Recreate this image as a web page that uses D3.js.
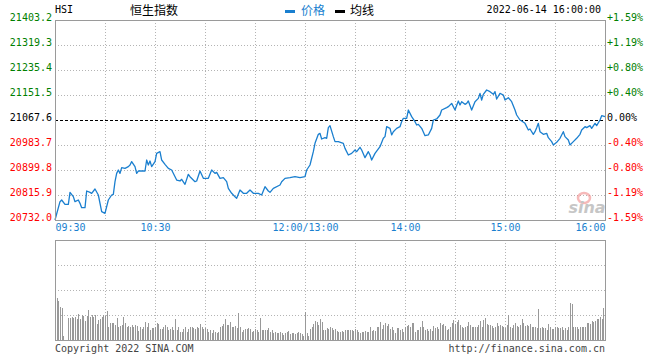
<!DOCTYPE html>
<html>
<head>
<meta charset="utf-8">
<script src="https://cdn.jsdelivr.net/npm/d3@7"></script>
<style>
  body { margin: 0; background: #fff; }
  text { font-family: "DejaVu Sans Mono", monospace; font-size: 10px; }
  .cjk { font-family: "Noto Sans CJK SC", sans-serif; font-size: 12px; }
</style>
</head>
<body>
<div id="graph"></div>
<script>
// HSI intraday, 2022-06-14
// trading minutes since 09:30 (lunch break 12:00-13:00 removed, 330 = 16:00)
const tradeMinute = [
  0, 3, 4, 6, 8, 9, 11, 12, 14, 15, 16, 18, 19, 21, 22, 24, 26, 28, 30, 32,
  34, 35, 36, 37, 38, 39, 40, 42, 44, 45, 46, 48, 49, 50, 54, 55, 56, 57, 58, 60,
  61, 63, 64, 66, 68, 70, 73, 75, 76, 78, 80, 81, 84, 85, 87, 89, 92, 94, 96, 97,
  99, 101, 103, 104, 106, 108, 109, 111, 113, 115, 117, 119, 122, 124, 126, 128, 129, 131, 135, 136,
  138, 141, 144, 147, 150, 151, 153, 155, 156, 158, 159, 160, 162, 163, 164, 165, 167, 168, 170, 173,
  174, 176, 178, 180, 181, 183, 184, 186, 188, 189, 190, 192, 195, 197, 198, 199, 201, 202, 203, 205,
  207, 208, 209, 211, 212, 214, 216, 217, 218, 220, 222, 224, 226, 227, 229, 231, 232, 235, 236, 238,
  240, 242, 243, 244, 246, 247, 248, 250, 252, 254, 255, 256, 257, 259, 261, 263, 264, 265, 267, 269,
  270, 272, 274, 276, 277, 279, 280, 282, 284, 285, 287, 288, 289, 290, 291, 293, 295, 296, 298, 299,
  301, 303, 305, 306, 308, 309, 311, 313, 315, 316, 318, 319, 321, 322, 324, 325, 327, 328, 330
];
const price = [
  20732.0, 20793.5, 20799.1, 20784.6, 20784.6, 20824.8, 20810.3, 20793.5, 20799.1, 20787.9,
  20773.4, 20773.4, 20829.3, 20824.8, 20821.5, 20836.0, 20815.9, 20760.0, 20754.4, 20799.1,
  20815.9, 20818.1, 20860.6, 20888.6, 20899.8, 20888.6, 20907.6, 20905.4, 20911.0, 20916.6,
  20927.8, 20911.0, 20888.6, 20896.4, 20896.4, 20933.3, 20916.6, 20930.0, 20911.0, 20927.8,
  20955.7, 20961.3, 20933.3, 20918.8, 20905.4, 20899.8, 20866.2, 20862.9, 20868.5, 20851.7,
  20885.3, 20877.4, 20860.6, 20862.9, 20896.4, 20871.8, 20871.8, 20899.8, 20888.6, 20892.0,
  20871.8, 20874.1, 20860.6, 20838.3, 20821.5, 20810.3, 20804.7, 20832.7, 20821.5, 20821.5,
  20832.7, 20821.5, 20821.5, 20815.9, 20843.9, 20829.3, 20824.8, 20838.3, 20849.5, 20860.6,
  20871.8, 20874.1, 20877.4, 20874.1, 20877.4, 20899.8, 20916.6, 20961.3, 20989.3, 21019.5,
  21022.8, 21003.8, 21008.3, 21006.1, 21041.9, 21048.6, 21011.7, 20994.9, 20994.9, 20989.3,
  20972.5, 20950.1, 20955.7, 20966.9, 20961.3, 20976.0, 20966.9, 20941.2, 20961.3, 20950.1,
  20933.3, 20955.7, 20978.1, 21006.1, 21011.7, 21045.2, 21039.6, 21017.4, 21028.4, 21039.6,
  21045.2, 21062.0, 21073.2, 21073.2, 21101.1, 21078.8, 21062.0, 21050.8, 21053.1, 21039.6,
  21015.0, 21017.3, 21039.6, 21067.6, 21071.0, 21084.4, 21101.1, 21109.0, 21112.3, 21123.5,
  21101.1, 21131.4, 21117.9, 21129.1, 21120.2, 21123.5, 21131.4, 21101.1, 21129.1, 21140.3,
  21157.1, 21134.7, 21153.7, 21168.3, 21162.7, 21153.7, 21162.7, 21138.1, 21157.1, 21151.5,
  21134.7, 21142.5, 21129.1, 21101.1, 21084.4, 21067.6, 21064.2, 21056.4, 21034.0, 21037.4,
  21019.5, 21028.4, 21041.9, 21056.4, 21028.4, 21019.5, 21022.8, 21008.3, 20994.9, 20983.7,
  20992.6, 21006.1, 21028.4, 21011.7, 21000.5, 20983.7, 20994.9, 21006.1, 21019.5, 21034.0,
  21045.2, 21041.9, 21048.6, 21039.6, 21056.4, 21048.6, 21067.6, 21082.1, 21078.8
];
// volume per minute, first entry = 09:31 (relative units)
const volume = [
  42, 39, 33, 32, 4, 0, 0, 22, 22, 23,
  22, 23, 21, 26, 21, 25, 24, 19, 24, 30,
  23, 25, 23, 25, 16, 20, 21, 23, 25, 24,
  29, 13, 17, 17, 17, 15, 22, 13, 14, 15,
  23, 17, 13, 14, 13, 15, 13, 15, 14, 9,
  13, 11, 13, 18, 13, 17, 10, 12, 12, 13,
  17, 16, 11, 11, 13, 15, 13, 10, 11, 13,
  10, 21, 10, 13, 8, 8, 11, 13, 8, 11,
  13, 13, 12, 11, 13, 12, 16, 13, 11, 12,
  11, 8, 10, 7, 10, 8, 7, 8, 13, 14,
  16, 21, 15, 15, 18, 13, 13, 14, 12, 27,
  13, 8, 10, 11, 11, 12, 11, 8, 9, 11,
  10, 8, 22, 10, 10, 10, 10, 12, 8, 10,
  7, 8, 7, 7, 8, 7, 5, 7, 8, 9,
  6, 7, 7, 6, 7, 8, 7, 6, 4, 28,
  7, 4, 11, 13, 16, 19, 18, 15, 21, 18,
  10, 10, 12, 11, 13, 12, 10, 11, 9,
  8, 8, 9, 8, 10, 10, 10, 10, 10, 9,
  11, 10, 8, 7, 8, 8, 9, 8, 8, 13,
  9, 10, 9, 13, 13, 18, 11, 15, 17, 14,
  16, 11, 13, 10, 7, 12, 12, 10, 11, 8,
  13, 14, 15, 13, 17, 17, 8, 10, 10, 13,
  19, 13, 10, 11, 9, 11, 9, 14, 12, 13,
  11, 17, 15, 16, 14, 10, 11, 13, 17, 20,
  16, 18, 20, 15, 13, 12, 13, 14, 18, 15,
  13, 13, 13, 13, 15, 19, 13, 20, 22, 16,
  15, 15, 14, 12, 13, 17, 14, 15, 14, 13,
  12, 15, 25, 13, 12, 15, 17, 14, 13, 15,
  21, 17, 14, 15, 14, 16, 13, 13, 13, 12,
  31, 12, 13, 12, 12, 10, 16, 13, 11, 11,
  13, 13, 12, 12, 13, 10, 12, 10, 13, 37,
  36, 13, 13, 13, 11, 13, 13, 13, 13, 17,
  17, 16, 19, 18, 19, 21, 21, 23, 21, 32
];

const prevClose = 21067.6;
const priceTicks = [21403.2, 21319.3, 21235.4, 21151.5, 21067.6, 20983.7, 20899.8, 20815.9, 20732.0];
const pctTicks = ["+1.59%", "+1.19%", "+0.80%", "+0.40%", "0.00%", "-0.40%", "-0.80%", "-1.19%", "-1.59%"];
const timeTicks = [0, 60, 150, 210, 270, 330];
const timeLabels = ["09:30", "10:30", "12:00/13:00", "14:00", "15:00", "16:00"];
const gridMinutes = [30, 60, 90, 120, 150, 180, 210, 240, 270, 300];

const width = 660;
const height = 360;
const plotLeft = 55, plotRight = 605;
const plotTop = 20, plotBottom = 220;
const volTop = 240, volBottom = 340;

const blue = "#1a7fcf";
const gridColor = "#b4b4b4";
const borderColor = "#9a9a9a";

const svg = d3.select("#graph")
              .append("svg")
              .attr("width", width)
              .attr("height", height);

const xScale = d3.scaleLinear()
                 .domain([0, 330])
                 .range([plotLeft, plotRight]);

const yScale = d3.scaleLinear()
                 .domain([20732.0, 21403.2])
                 .range([plotBottom, plotTop]);

const vScale = d3.scaleLinear()
                 .domain([0, 100])
                 .range([volBottom, volTop]);

const tickColor = v => v > prevClose ? "#008000" : (v < prevClose ? "#ff0000" : "#000");

// grid, price panel
svg.append("g")
   .selectAll("line")
   .data(priceTicks.filter(v => v !== prevClose && v !== 21403.2 && v !== 20732.0))
   .enter()
   .append("line")
   .attr("x1", plotLeft).attr("x2", plotRight)
   .attr("y1", v => Math.round(yScale(v)) + 0.5)
   .attr("y2", v => Math.round(yScale(v)) + 0.5)
   .attr("stroke", gridColor)
   .attr("stroke-dasharray", "1,2");

svg.append("g")
   .selectAll("line")
   .data(gridMinutes)
   .enter()
   .append("line")
   .attr("x1", m => Math.round(xScale(m)) + 0.5)
   .attr("x2", m => Math.round(xScale(m)) + 0.5)
   .attr("y1", plotTop).attr("y2", plotBottom)
   .attr("stroke", gridColor)
   .attr("stroke-dasharray", "1,2");

svg.append("line")
   .attr("x1", plotLeft).attr("x2", plotRight)
   .attr("y1", Math.round(yScale(prevClose)) + 0.5)
   .attr("y2", Math.round(yScale(prevClose)) + 0.5)
   .attr("stroke", "#000")
   .attr("stroke-dasharray", "3,2");

// grid, volume panel
svg.append("g")
   .selectAll("line")
   .data([25, 50, 75])
   .enter()
   .append("line")
   .attr("x1", plotLeft).attr("x2", plotRight)
   .attr("y1", v => Math.round(vScale(v)) + 0.5)
   .attr("y2", v => Math.round(vScale(v)) + 0.5)
   .attr("stroke", gridColor)
   .attr("stroke-dasharray", "1,2");

svg.append("g")
   .selectAll("line")
   .data(gridMinutes)
   .enter()
   .append("line")
   .attr("x1", m => Math.round(xScale(m)) + 0.5)
   .attr("x2", m => Math.round(xScale(m)) + 0.5)
   .attr("y1", volTop).attr("y2", volBottom)
   .attr("stroke", gridColor)
   .attr("stroke-dasharray", "1,2");

// sina watermark
const mark = svg.append("g").attr("opacity", 0.55);
mark.append("ellipse")
    .attr("cx", 584).attr("cy", 198)
    .attr("rx", 6).attr("ry", 5)
    .attr("fill", "none")
    .attr("stroke", "#f08080")
    .attr("stroke-width", 2.5);
mark.append("text")
    .attr("x", 587).attr("y", 213)
    .attr("text-anchor", "middle")
    .style("font-family", "DejaVu Sans")
    .style("font-size", "16px")
    .style("font-weight", "bold")
    .style("font-style", "italic")
    .attr("fill", "#999")
    .text("sina");

// volume bars
svg.append("g")
   .selectAll("rect")
   .data(volume)
   .enter()
   .append("rect")
   .attr("x", (v, i) => Math.round(xScale(i + 1)))
   .attr("y", v => vScale(v))
   .attr("width", 1)
   .attr("height", v => volBottom - vScale(v))
   .attr("fill", "#999");

// price line
const line = d3.line()
               .x((d, i) => xScale(tradeMinute[i]))
               .y(d => yScale(d));

svg.append("path")
   .datum(price)
   .attr("d", line)
   .attr("fill", "none")
   .attr("stroke", blue)
   .attr("stroke-width", 1.3)
   .attr("stroke-linejoin", "round");

// borders
svg.append("rect")
   .attr("x", plotLeft + 0.5).attr("y", plotTop + 0.5)
   .attr("width", plotRight - plotLeft).attr("height", plotBottom - plotTop)
   .attr("fill", "none")
   .attr("stroke", borderColor);

svg.append("rect")
   .attr("x", plotLeft + 0.5).attr("y", volTop + 0.5)
   .attr("width", plotRight - plotLeft).attr("height", volBottom - volTop)
   .attr("fill", "none")
   .attr("stroke", borderColor);

// axes
const yAxis = d3.axisLeft(yScale)
                .tickValues(priceTicks)
                .tickFormat(d3.format(".1f"))
                .tickSize(0)
                .tickPadding(3);

svg.append("g")
   .attr("id", "y-axis")
   .attr("transform", "translate(" + plotLeft + ",0)")
   .call(yAxis)
   .call(g => g.select(".domain").remove())
   .call(g => g.selectAll("text")
               .attr("dy", "0.05em")
               .style("font-family", "DejaVu Sans Mono")
               .style("font-size", "10px")
               .attr("fill", v => tickColor(v)));

const pctAxis = d3.axisRight(yScale)
                  .tickValues(priceTicks)
                  .tickFormat((v, i) => pctTicks[i])
                  .tickSize(0)
                  .tickPadding(2);

svg.append("g")
   .attr("id", "pct-axis")
   .attr("transform", "translate(" + plotRight + ",0)")
   .call(pctAxis)
   .call(g => g.select(".domain").remove())
   .call(g => g.selectAll("text")
               .attr("dy", "0.05em")
               .style("font-family", "DejaVu Sans Mono")
               .style("font-size", "10px")
               .attr("fill", v => tickColor(v)));

const xAxis = d3.axisBottom(xScale)
                .tickValues(timeTicks)
                .tickFormat((v, i) => timeLabels[i])
                .tickSize(0)
                .tickPadding(4);

svg.append("g")
   .attr("id", "x-axis")
   .attr("transform", "translate(0," + plotBottom + ")")
   .call(xAxis)
   .call(g => g.select(".domain").remove())
   .call(g => g.selectAll("text")
               .style("font-family", "DejaVu Sans Mono")
               .style("font-size", "10px")
               .attr("fill", blue)
               .attr("text-anchor", (v, i) => i === 0 ? "start" : (i === timeTicks.length - 1 ? "end" : "middle")));

// header
svg.append("text")
   .attr("x", 55).attr("y", 13)
   .attr("fill", "#000")
   .text("HSI");

svg.append("text")
   .attr("class", "cjk")
   .attr("x", 130).attr("y", 15)
   .attr("fill", "#000")
   .text("恒生指数");

svg.append("rect")
   .attr("x", 285).attr("y", 10)
   .attr("width", 10).attr("height", 3)
   .attr("fill", blue);

svg.append("text")
   .attr("class", "cjk")
   .attr("x", 301).attr("y", 15)
   .attr("fill", blue)
   .text("价格");

svg.append("rect")
   .attr("x", 335).attr("y", 10)
   .attr("width", 10).attr("height", 3)
   .attr("fill", "#000");

svg.append("text")
   .attr("class", "cjk")
   .attr("x", 350).attr("y", 15)
   .attr("fill", "#000")
   .text("均线");

svg.append("text")
   .attr("x", 601).attr("y", 13)
   .attr("text-anchor", "end")
   .attr("fill", "#000")
   .text("2022-06-14 16:00:00");

// footer
svg.append("text")
   .attr("x", 55).attr("y", 352)
   .attr("fill", "#444")
   .text("Copyright 2022 SINA.COM");

svg.append("text")
   .attr("x", 605).attr("y", 352)
   .attr("text-anchor", "end")
   .attr("fill", "#444")
   .text("http://finance.sina.com.cn");
</script>
</body>
</html>
